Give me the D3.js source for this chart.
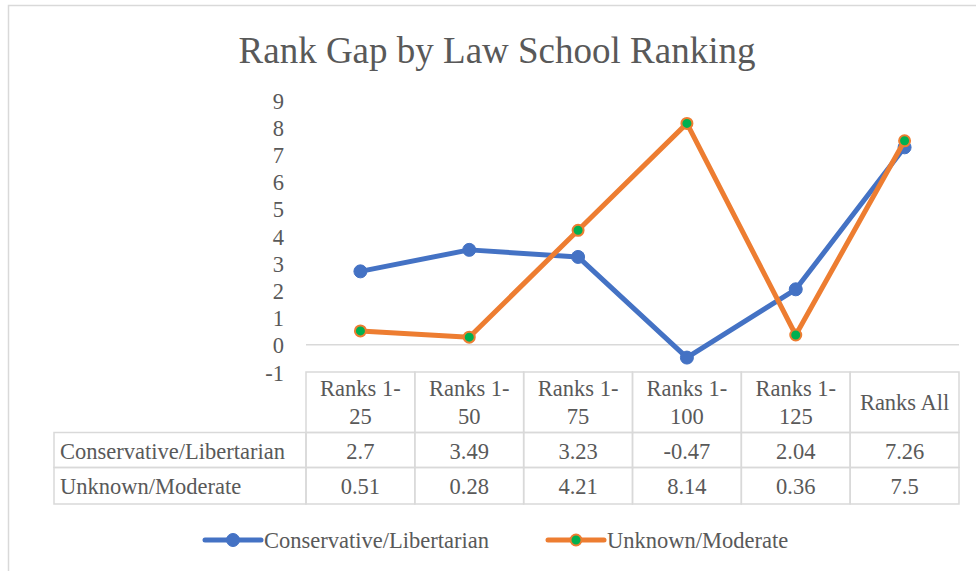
<!DOCTYPE html>
<html><head><meta charset="utf-8">
<script src="https://cdn.jsdelivr.net/npm/d3@7"></script>
<style>body{margin:0;background:#fff}svg{display:block}svg text{font-family:"Liberation Serif","Times New Roman",Tinos,"DejaVu Serif",serif !important;fill:#595959}</style>
</head><body><svg id="c" width="976" height="571"></svg>
<script>
const categories = [["Ranks 1-","25"],["Ranks 1-","50"],["Ranks 1-","75"],["Ranks 1-","100"],["Ranks 1-","125"],["Ranks All"]];
const seriesNames = ["Conservative/Libertarian","Unknown/Moderate"];
const consLib = [2.7,3.49,3.23,-0.47,2.04,7.26];
const unkMod = [0.51,0.28,4.21,8.14,0.36,7.5];
const valueLabels = [["2.7","3.49","3.23","-0.47","2.04","7.26"],["0.51","0.28","4.21","8.14","0.36","7.5"]];
const yTicks = [-1,0,1,2,3,4,5,6,7,8,9];
const title = "Rank Gap by Law School Ranking";

const svg = d3.select("#c");
const grey = "#D9D9D9";
const colors = ["#4472C4","#ED7D31"];
const markerFill = ["#4472C4","#00B050"];
const fs = 22.5;

// outer border
svg.append("rect").attr("x",8.5).attr("y",5.5).attr("width",1000).attr("height",600)
  .attr("fill","none").attr("stroke",grey).attr("stroke-width",1.5);

svg.append("text").attr("x",497).attr("y",63).attr("text-anchor","middle")
  .attr("font-size",37).text(title);

const x = d3.scaleBand().domain(d3.range(categories.length)).range([306,959]);
const y = d3.scaleLinear().domain([-1,9]).range([372,100]);

// y tick labels
const yAxis = d3.axisLeft(y).tickValues(yTicks).tickSize(0).tickPadding(0).tickFormat(d=>String(d));
const ga = svg.append("g").attr("transform","translate(284,0)").call(yAxis);
ga.select(".domain").remove();
ga.attr("font-family",null);
ga.selectAll("text").attr("font-size",fs).attr("fill","#595959").attr("dy","0.36em");

// zero line
svg.append("line").attr("x1",306).attr("x2",959).attr("y1",y(0)).attr("y2",y(0))
  .attr("stroke",grey).attr("stroke-width",1.5);

// lines
const series = [consLib, unkMod];
const line = d3.line().x((d,i)=>x(i)+x.bandwidth()/2).y(d=>y(d));
series.forEach((s,k)=>{
  svg.append("path").datum(s).attr("d",line).attr("fill","none")
    .attr("stroke",colors[k]).attr("stroke-width",5).attr("stroke-linejoin","round").attr("stroke-linecap","round");
  svg.selectAll(null).data(s).enter().append("circle")
    .attr("cx",(d,i)=>x(i)+x.bandwidth()/2).attr("cy",d=>y(d)).attr("r",k?5.5:6.5)
    .attr("fill",markerFill[k]).attr("stroke",colors[k]).attr("stroke-width",k?2:1);
});

// data table
const rowY = [372,432.5,467.5,504];
const tbl = svg.append("g");
categories.forEach((c,i)=>{
  const x0 = x(i), w = x.bandwidth();
  tbl.append("rect").attr("x",x0).attr("y",rowY[0]).attr("width",w).attr("height",rowY[1]-rowY[0])
    .attr("fill","none").attr("stroke",grey).attr("stroke-width",1.5);
  const cx = x0 + w/2;
  if (c.length===2){
    tbl.append("text").attr("x",cx).attr("y",396).attr("text-anchor","middle").attr("font-size",fs).text(c[0]);
    tbl.append("text").attr("x",cx).attr("y",424).attr("text-anchor","middle").attr("font-size",fs).text(c[1]);
  } else {
    tbl.append("text").attr("x",cx).attr("y",410).attr("text-anchor","middle").attr("font-size",fs).text(c[0]);
  }
});
seriesNames.forEach((n,r)=>{
  const y0 = rowY[r+1], y1 = rowY[r+2];
  tbl.append("rect").attr("x",54).attr("y",y0).attr("width",306-54).attr("height",y1-y0)
    .attr("fill","none").attr("stroke",grey).attr("stroke-width",1.5);
  tbl.append("text").attr("x",60).attr("y",y0+26).attr("font-size",fs).text(n);
  valueLabels[r].forEach((v,i)=>{
    tbl.append("rect").attr("x",x(i)).attr("y",y0).attr("width",x.bandwidth()).attr("height",y1-y0)
      .attr("fill","none").attr("stroke",grey).attr("stroke-width",1.5);
    tbl.append("text").attr("x",x(i)+x.bandwidth()/2).attr("y",y0+26).attr("text-anchor","middle")
      .attr("font-size",fs).text(v);
  });
});

// legend
const legX = [205,548];
seriesNames.forEach((n,k)=>{
  const g = svg.append("g");
  g.append("line").attr("x1",legX[k]).attr("x2",legX[k]+56).attr("y1",540).attr("y2",540)
    .attr("stroke",colors[k]).attr("stroke-width",5).attr("stroke-linecap","round");
  g.append("circle").attr("cx",legX[k]+28).attr("cy",540).attr("r",k?5.5:6.5)
    .attr("fill",markerFill[k]).attr("stroke",colors[k]).attr("stroke-width",k?2:1);
  g.append("text").attr("x",legX[k]+59).attr("y",548).attr("font-size",fs).text(n);
});
</script></body></html>
